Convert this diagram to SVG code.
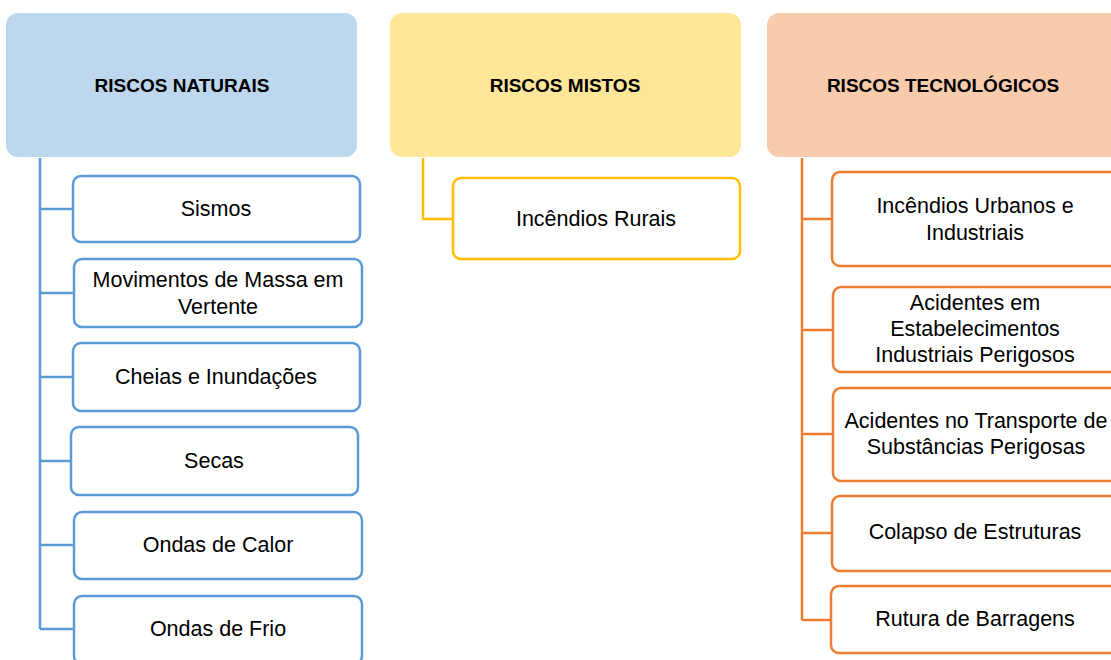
<svg xmlns="http://www.w3.org/2000/svg" width="1111" height="660" viewBox="0 0 1111 660">
<style>
.t{font-family:"Liberation Sans",Arial,sans-serif;font-size:21.5px;fill:#000;text-anchor:middle}
.h{font-family:"Liberation Sans",Arial,sans-serif;font-size:19px;font-weight:bold;fill:#000;text-anchor:middle}
.bb{fill:#fff;stroke:#5B9BD5;stroke-width:2.5}
.yb{fill:#fff;stroke:#FFC000;stroke-width:2.5}
.ob{fill:#fff;stroke:#ED7D31;stroke-width:2.5}
.bl{fill:none;stroke:#5B9BD5;stroke-width:2.5}
.yl{fill:none;stroke:#FFC000;stroke-width:2.5}
.ol{fill:none;stroke:#ED7D31;stroke-width:2.5}
</style>
<rect width="1111" height="660" fill="#fff"/>
<g id="connectors">
<path class="bl" d="M40 158V629M40 209H73M40 293H74M40 377H73M40 461H71M40 545H74M40 629H74"/>
<path class="yl" d="M423 158V219H453"/>
<path class="ol" d="M802 158V620M802 219H832M802 330H833M802 434H833M802 533H832M802 620H831"/>
</g>
<g id="h-naturais"><rect x="6" y="13" width="351" height="144" rx="12" fill="#BDD7EE"/><text class="h" x="182" y="92">RISCOS NATURAIS</text></g>
<g id="h-mistos"><rect x="390" y="13" width="351" height="144" rx="12" fill="#FFE699"/><text class="h" x="565" y="92">RISCOS MISTOS</text></g>
<g id="h-tecnologicos"><rect x="767" y="13" width="360" height="144" rx="12" fill="#F8CBAD"/><text class="h" x="943" y="92">RISCOS TECNOLÓGICOS</text></g>
<g id="n-sismos"><rect class="bb" x="73" y="176" width="287" height="66" rx="8"/><text class="t" x="216" y="216">Sismos</text></g>
<g id="n-movimentos"><rect class="bb" x="74" y="259" width="288" height="68" rx="8"/><text class="t" x="218" y="287">Movimentos de Massa em</text><text class="t" x="218" y="314">Vertente</text></g>
<g id="n-cheias"><rect class="bb" x="73" y="343" width="287" height="68" rx="8"/><text class="t" x="216" y="384">Cheias e Inundações</text></g>
<g id="n-secas"><rect class="bb" x="71" y="427" width="287" height="68" rx="8"/><text class="t" x="214" y="468">Secas</text></g>
<g id="n-calor"><rect class="bb" x="74" y="512" width="288" height="67" rx="8"/><text class="t" x="218" y="552">Ondas de Calor</text></g>
<g id="n-frio"><rect class="bb" x="74" y="596" width="288" height="68" rx="8"/><text class="t" x="218" y="636">Ondas de Frio</text></g>
<g id="n-rurais"><rect class="yb" x="453" y="178" width="287" height="81" rx="8"/><text class="t" x="596" y="226">Incêndios Rurais</text></g>
<g id="n-urbanos"><rect class="ob" x="832" y="172" width="300" height="94" rx="8"/><text class="t" x="975" y="213">Incêndios Urbanos e</text><text class="t" x="975" y="240">Industriais</text></g>
<g id="n-estab"><rect class="ob" x="833" y="287" width="300" height="85" rx="8"/><text class="t" x="975" y="310">Acidentes em</text><text class="t" x="975" y="336">Estabelecimentos</text><text class="t" x="975" y="362">Industriais Perigosos</text></g>
<g id="n-transporte"><rect class="ob" x="833" y="388" width="300" height="93" rx="8"/><text class="t" x="976" y="428">Acidentes no Transporte de</text><text class="t" x="976" y="454">Substâncias Perigosas</text></g>
<g id="n-colapso"><rect class="ob" x="832" y="496" width="300" height="75" rx="8"/><text class="t" x="975" y="539">Colapso de Estruturas</text></g>
<g id="n-barragens"><rect class="ob" x="831" y="586" width="300" height="67" rx="8"/><text class="t" x="975" y="626">Rutura de Barragens</text></g>
</svg>
